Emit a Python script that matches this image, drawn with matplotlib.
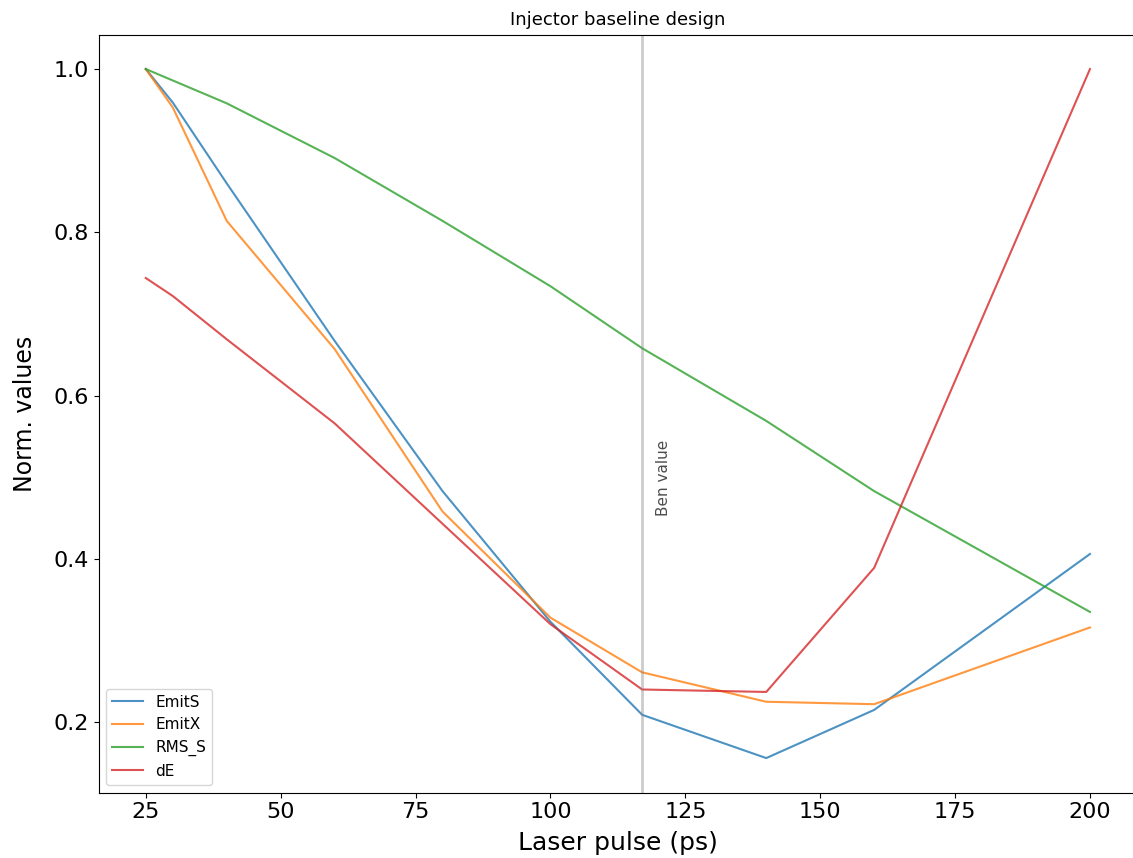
import matplotlib
matplotlib.use('Agg')
import matplotlib.pyplot as plt

# laser pulse length (ps)
pulse = [25, 30, 40, 60, 80, 100, 117, 140, 160, 200]

emit_s = [1.0, 0.959, 0.86, 0.667, 0.483, 0.323, 0.209, 0.156, 0.215, 0.406]
emit_x = [1.0, 0.953, 0.814, 0.657, 0.458, 0.328, 0.261, 0.225, 0.222, 0.316]
rms_s = [1.0, 0.986, 0.958, 0.891, 0.814, 0.734, 0.658, 0.569, 0.483, 0.335]
d_e = [0.744, 0.722, 0.669, 0.566, 0.443, 0.32, 0.24, 0.237, 0.389, 1.0]

ben_value = 117

fig, ax = plt.subplots(figsize=(11.33, 8.58), dpi=100)
ax.plot(pulse, emit_s, label='EmitS', alpha=0.8)
ax.plot(pulse, emit_x, label='EmitX', alpha=0.8)
ax.plot(pulse, rms_s, label='RMS_S', alpha=0.8)
ax.plot(pulse, d_e, label='dE', alpha=0.8)

ax.axvline(ben_value, color='gray', alpha=0.4, lw=2)
ax.text(ben_value + 2.5, 0.452, 'Ben value', rotation=90, va='bottom', alpha=0.7, fontsize=11)

ax.set_title('Injector baseline design', fontsize=13, pad=7)
ax.set_xlabel('Laser pulse (ps)', fontsize=18, labelpad=6)
ax.set_ylabel('Norm. values', fontsize=17, labelpad=12)
ax.tick_params(labelsize=16)
ax.legend(loc='lower left', fontsize=11)

# the original was cropped a little on the right
plt.subplots_adjust(left=0.087, right=1.0037, top=0.9597, bottom=0.0763)
plt.savefig('out.png')
